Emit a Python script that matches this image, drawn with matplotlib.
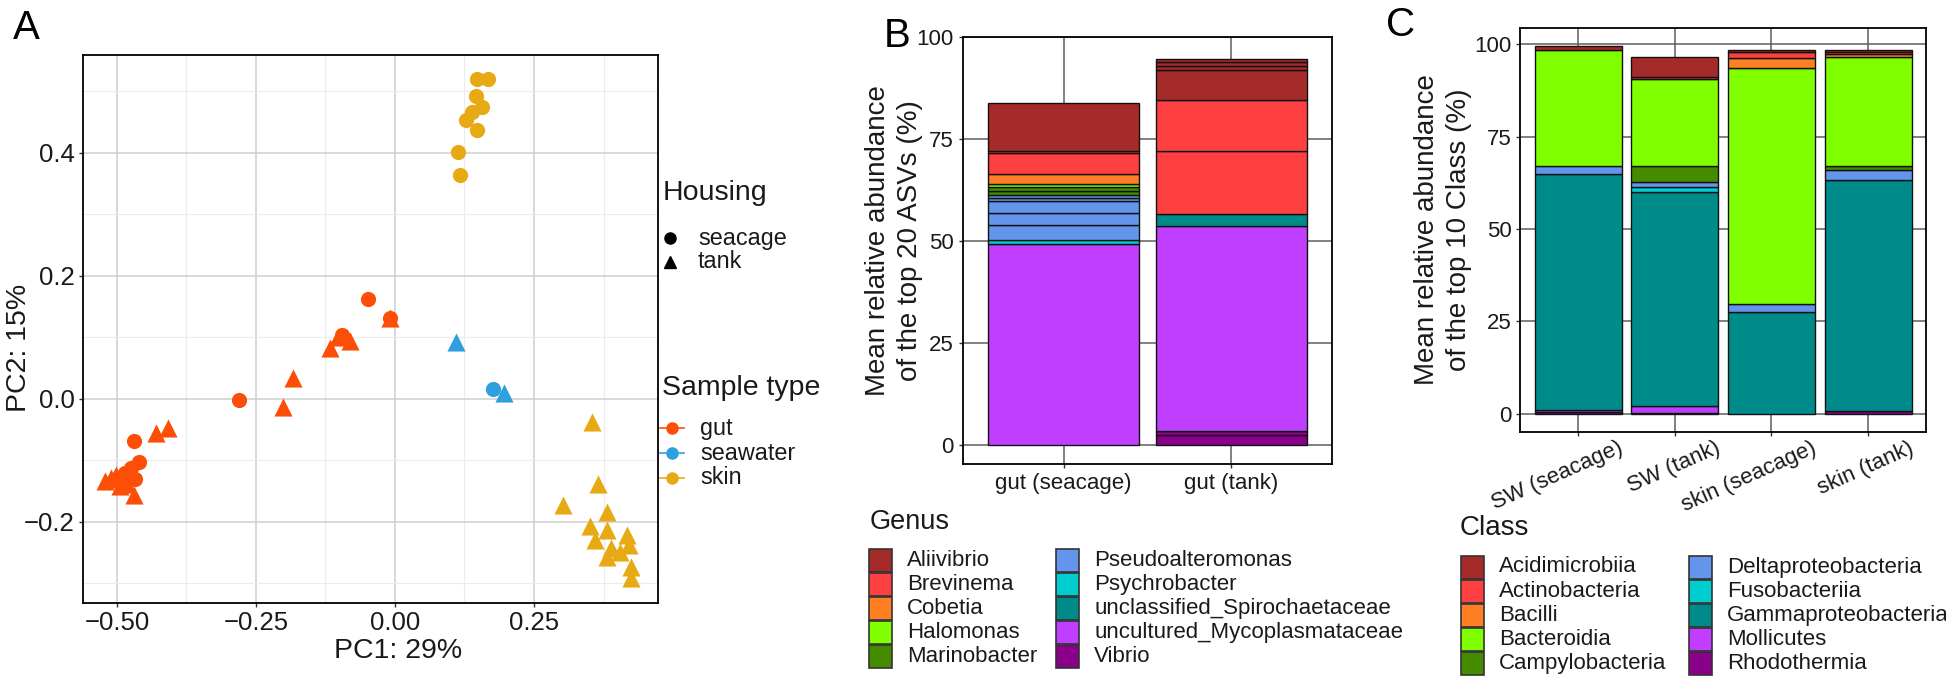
import matplotlib
matplotlib.use("Agg")
import matplotlib.pyplot as plt
from matplotlib.patches import Rectangle
from matplotlib.lines import Line2D
from matplotlib.transforms import ScaledTranslation
import numpy as np

plt.rcParams['font.family'] = ['Liberation Sans', 'DejaVu Sans']

# ---------------- Panel A data (PCA) ----------------
gut_seacage_pc1 = [-0.049, -0.009, -0.280, -0.095, -0.470, -0.461, -0.474, -0.468, -0.486]
gut_seacage_pc2 = [0.163, 0.131, -0.002, 0.103, -0.068, -0.102, -0.112, -0.131, -0.120]
gut_tank_pc1 = [-0.521, -0.510, -0.501, -0.493, -0.494, -0.482, -0.470, -0.429, -0.408,
                -0.201, -0.184, -0.117, -0.103, -0.081, -0.009]
gut_tank_pc2 = [-0.133, -0.129, -0.124, -0.131, -0.142, -0.138, -0.157, -0.055, -0.048,
                -0.013, 0.034, 0.083, 0.101, 0.094, 0.131]
seawater_seacage_pc1 = [0.176]
seawater_seacage_pc2 = [0.016]
seawater_tank_pc1 = [0.110, 0.196]
seawater_tank_pc2 = [0.092, 0.010]
skin_seacage_pc1 = [0.148, 0.1665, 0.146, 0.156, 0.138, 0.128, 0.147, 0.1135, 0.117]
skin_seacage_pc2 = [0.520, 0.520, 0.493, 0.475, 0.466, 0.453, 0.437, 0.401, 0.364]
skin_tank_pc1 = [0.354, 0.366, 0.303, 0.381, 0.350, 0.381, 0.359, 0.417, 0.421, 0.389,
                 0.405, 0.381, 0.425, 0.425]
skin_tank_pc2 = [-0.037, -0.138, -0.173, -0.184, -0.206, -0.213, -0.229, -0.222, -0.238,
                 -0.242, -0.249, -0.257, -0.273, -0.291]
sample_types = ["gut", "seawater", "skin"]
sample_colors = ["#FC4E07", "#2E9FDF", "#E8AA14"]
housing_levels = ["seacage", "tank"]

# ---------------- Panel B data (top 20 ASVs) ----------------
genus_names = ["Aliivibrio", "Brevinema", "Cobetia", "Halomonas", "Marinobacter",
               "Pseudoalteromonas", "Psychrobacter", "unclassified_Spirochaetaceae",
               "uncultured_Mycoplasmataceae", "Vibrio"]
palette = ["#A52A2A", "#FF4040", "#FF7F24", "#7FFF00", "#458B00",
           "#6495ED", "#00CDCD", "#008B8B", "#BF3EFF", "#8B008B"]
gut_groups = ["gut (seacage)", "gut (tank)"]
# ASVs listed from top of the stack to bottom
asv_genus = ["Aliivibrio", "Aliivibrio", "Aliivibrio", "Aliivibrio",
             "Brevinema", "Brevinema", "Cobetia", "Halomonas",
             "Marinobacter", "Marinobacter",
             "Pseudoalteromonas", "Pseudoalteromonas", "Pseudoalteromonas",
             "Pseudoalteromonas", "Pseudoalteromonas", "Psychrobacter",
             "unclassified_Spirochaetaceae", "uncultured_Mycoplasmataceae",
             "Vibrio", "Vibrio"]
asv_gut_seacage = [0.0, 0.0, 0.0, 11.9, 0.4, 5.1, 2.6, 0.8, 0.9, 0.9,
                   0.7, 0.8, 2.9, 2.9, 3.8, 1.0, 0.0, 49.2, 0.0, 0.0]
asv_gut_tank = [0.9, 0.9, 0.9, 7.5, 12.5, 15.4, 0.0, 0.0, 0.0, 0.0,
                0.0, 0.0, 0.0, 0.0, 0.0, 0.0, 3.0, 50.3, 0.9, 2.4]

# ---------------- Panel C data (top 10 classes) ----------------
class_names = ["Acidimicrobiia", "Actinobacteria", "Bacilli", "Bacteroidia",
               "Campylobacteria", "Deltaproteobacteria", "Fusobacteriia",
               "Gammaproteobacteria", "Mollicutes", "Rhodothermia"]
class_groups = ["SW (seacage)", "SW (tank)", "skin (seacage)", "skin (tank)"]
acidimicrobiia = [1.0, 5.2, 0.4, 0.5]
actinobacteria = [0.0, 0.6, 1.8, 0.4]
bacilli = [0.0, 0.0, 2.7, 0.9]
bacteroidia = [31.3, 23.6, 63.7, 29.6]
campylobacteria = [0.0, 4.2, 0.0, 1.0]
deltaproteobacteria = [2.2, 1.5, 2.4, 2.7]
fusobacteriia = [0.0, 1.2, 0.0, 0.0]
gammaproteobacteria = [63.9, 57.9, 27.4, 62.5]
mollicutes = [0.6, 2.0, 0.0, 0.0]
rhodothermia = [0.4, 0.2, 0.0, 0.7]
class_values = [acidimicrobiia, actinobacteria, bacilli, bacteroidia, campylobacteria,
                deltaproteobacteria, fusobacteriia, gammaproteobacteria, mollicutes,
                rhodothermia]

# ---------------- Figure ----------------
W, H, DPI = 1946, 680, 100
fig = plt.figure(figsize=(W / DPI, H / DPI), dpi=DPI)


def fx(x):
    return x / W


def fy(y):
    return 1 - y / H


def axes_px(l, t, r, b):
    return fig.add_axes([fx(l), fy(b), (r - l) / W, (b - t) / H])


axA = axes_px(83, 55, 658, 603)
axB = axes_px(963, 37, 1332, 464)
axC = axes_px(1520, 28, 1926, 432)

TXT = "#1a1a1a"

# ---------------- Panel A ----------------
groups_A = [
    (gut_tank_pc1, gut_tank_pc2, sample_colors[0], "^"),
    (seawater_tank_pc1, seawater_tank_pc2, sample_colors[1], "^"),
    (skin_tank_pc1, skin_tank_pc2, sample_colors[2], "^"),
    (gut_seacage_pc1, gut_seacage_pc2, sample_colors[0], "o"),
    (seawater_seacage_pc1, seawater_seacage_pc2, sample_colors[1], "o"),
    (skin_seacage_pc1, skin_seacage_pc2, sample_colors[2], "o"),
]
for xs, ys, c, m in groups_A:
    axA.scatter(xs, ys, s=170 if m == "^" else 120, c=c, marker=m,
                linewidths=0, zorder=3)

axA.set_xlim(-0.561, 0.473)
axA.set_ylim(-0.332, 0.559)
axA.set_xticks([-0.5, -0.25, 0.0, 0.25])
axA.set_xticklabels(["\u22120.50", "\u22120.25", "0.00", "0.25"])
axA.set_yticks([-0.2, 0.0, 0.2, 0.4])
axA.set_yticklabels(["\u22120.2", "0.0", "0.2", "0.4"])
axA.set_xticks([-0.375, -0.125, 0.125, 0.375], minor=True)
axA.set_yticks([-0.3, -0.1, 0.1, 0.3, 0.5], minor=True)
axA.grid(True, which="major", color="#cfcfcf", lw=1.1)
axA.grid(True, which="minor", color="#ececec", lw=0.8)
axA.set_axisbelow(True)
axA.tick_params(which="major", length=3, width=1, color="#333333",
                labelsize=18.5, labelcolor=TXT, pad=3)
axA.tick_params(which="minor", length=0)
for s in axA.spines.values():
    s.set_linewidth(1.3)
    s.set_color("black")
axA.set_xlabel("PC1: 29%", fontsize=20.5, color=TXT)
axA.set_ylabel("PC2: 15%", fontsize=20.5, color=TXT)
axA.xaxis.set_label_coords(0.548, -0.064)
axA.yaxis.set_label_coords((32 - 83) / 575, (603 - 348) / 548)

# Panel A legends
fig.text(fx(663), fy(193), "Housing", fontsize=20.5, va="center", ha="left", color=TXT)
for i, (lab, m) in enumerate(zip(housing_levels, ["o", "^"])):
    yc = 238 + 24 * i
    fig.add_artist(Line2D([fx(670)], [fy(yc)], transform=fig.transFigure, marker=m,
                          markersize=8 if m == "o" else 9, color="black", lw=0))
    fig.text(fx(698), fy(yc), lab, fontsize=16.8, va="center", ha="left", color=TXT)

fig.text(fx(662), fy(388), "Sample type", fontsize=20.5, va="center", ha="left", color=TXT)
for i, (lab, c) in enumerate(zip(sample_types, sample_colors)):
    yc = 428 + 25 * i
    fig.add_artist(Line2D([fx(660), fx(684)], [fy(yc), fy(yc)], transform=fig.transFigure,
                          color=c, lw=1.2))
    fig.add_artist(Line2D([fx(672)], [fy(yc)], transform=fig.transFigure, marker="o",
                          markersize=8, color=c, lw=0))
    fig.text(fx(700), fy(yc), lab, fontsize=16.8, va="center", ha="left", color=TXT)


# ---------------- stacked bar helper ----------------
def stacked(ax, seg_values, seg_colors, n_groups):
    """seg_values: list (top -> bottom) of per-group value lists."""
    bottoms = np.zeros(n_groups)
    xpos = np.arange(1, n_groups + 1)
    for vals, col in zip(seg_values[::-1], seg_colors[::-1]):
        vals = np.asarray(vals, dtype=float)
        mask = vals > 0
        if mask.any():
            ax.bar(xpos[mask], vals[mask], bottom=bottoms[mask], width=0.9,
                   color=col, edgecolor="#111111", linewidth=1.0, zorder=3)
        bottoms += vals
    return bottoms


def style_bar_axes(ax):
    ax.grid(True, which="major", color="#5e5e5e", lw=1.1)
    ax.set_axisbelow(True)
    for s in ax.spines.values():
        s.set_linewidth(1.3)
        s.set_color("black")


# ---------------- Panel B ----------------
gcol = dict(zip(genus_names, palette))
asv_values = [[a, b] for a, b in zip(asv_gut_seacage, asv_gut_tank)]
totB = stacked(axB, asv_values, [gcol[g] for g in asv_genus], len(gut_groups))
topB = totB.max()
axB.set_xlim(0.4, len(gut_groups) + 0.6)
axB.set_ylim(-0.05 * topB, 1.05 * topB)
axB.set_yticks([0, 25, 50, 75, 100])
axB.set_xticks(np.arange(1, len(gut_groups) + 1))
axB.set_xticklabels(gut_groups)
style_bar_axes(axB)
axB.tick_params(length=3, width=1, color="#333333", labelsize=16, labelcolor=TXT, pad=3.5)
axB.set_ylabel("Mean relative abundance\nof the top 20 ASVs (%)", fontsize=20,
               color=TXT, linespacing=1.3)
axB.yaxis.set_label_coords((923 - 963) / 369, (464 - 241) / 427)

# Genus legend
fig.text(fx(870), fy(522), "Genus", fontsize=19.5, va="center", ha="left", color=TXT)
for i, (name, col) in enumerate(zip(genus_names, palette)):
    column, row = divmod(i, 5)
    kx = [869, 1056][column]
    yc = 560 + 24.2 * row
    fig.add_artist(Rectangle((fx(kx), fy(yc + 11.5)), 23 / W, 23 / H,
                             transform=fig.transFigure, facecolor=col,
                             edgecolor="#333333", lw=1.2))
    fig.text(fx(kx + 38), fy(yc), name, fontsize=16, va="center", ha="left", color=TXT)

# ---------------- Panel C ----------------
totC = stacked(axC, class_values, palette, len(class_groups))
topC = totC.max()
axC.set_xlim(0.4, len(class_groups) + 0.6)
axC.set_ylim(-0.05 * topC, 1.05 * topC)
axC.set_yticks([0, 25, 50, 75, 100])
axC.set_xticks(np.arange(1, len(class_groups) + 1))
axC.set_xticklabels(class_groups, rotation=24, ha="right", va="top",
                    rotation_mode="anchor")
style_bar_axes(axC)
axC.tick_params(axis="y", length=3, width=1, color="#333333", labelsize=16,
                labelcolor=TXT, pad=3)
axC.tick_params(axis="x", length=3, width=1, color="#333333", labelsize=16,
                labelcolor=TXT, pad=1)
axC.set_ylabel("Mean relative abundance\nof the top 10 Class (%)", fontsize=20,
               color=TXT, linespacing=1.3)
axC.yaxis.set_label_coords((1472 - 1520) / 406, 0.5)
shift = ScaledTranslation(40 / DPI, 0, fig.dpi_scale_trans)
for t in axC.get_xticklabels():
    t.set_transform(t.get_transform() + shift)

# Class legend
fig.text(fx(1460), fy(528), "Class", fontsize=20, va="center", ha="left", color=TXT)
for i, (name, col) in enumerate(zip(class_names, palette)):
    column, row = divmod(i, 5)
    kx = [1461, 1689][column]
    yc = 567 + 24.2 * row
    fig.add_artist(Rectangle((fx(kx), fy(yc + 11.5)), 23 / W, 23 / H,
                             transform=fig.transFigure, facecolor=col,
                             edgecolor="#333333", lw=1.2))
    fig.text(fx(kx + 38), fy(yc), name, fontsize=16, va="center", ha="left", color=TXT)

# Panel letters
fig.text(fx(13), fy(28), "A", fontsize=29, va="center", ha="left", color="black")
fig.text(fx(884), fy(36), "B", fontsize=29, va="center", ha="left", color="black")
fig.text(fx(1386), fy(25), "C", fontsize=29, va="center", ha="left", color="black")

fig.savefig("out.png", dpi=DPI)
